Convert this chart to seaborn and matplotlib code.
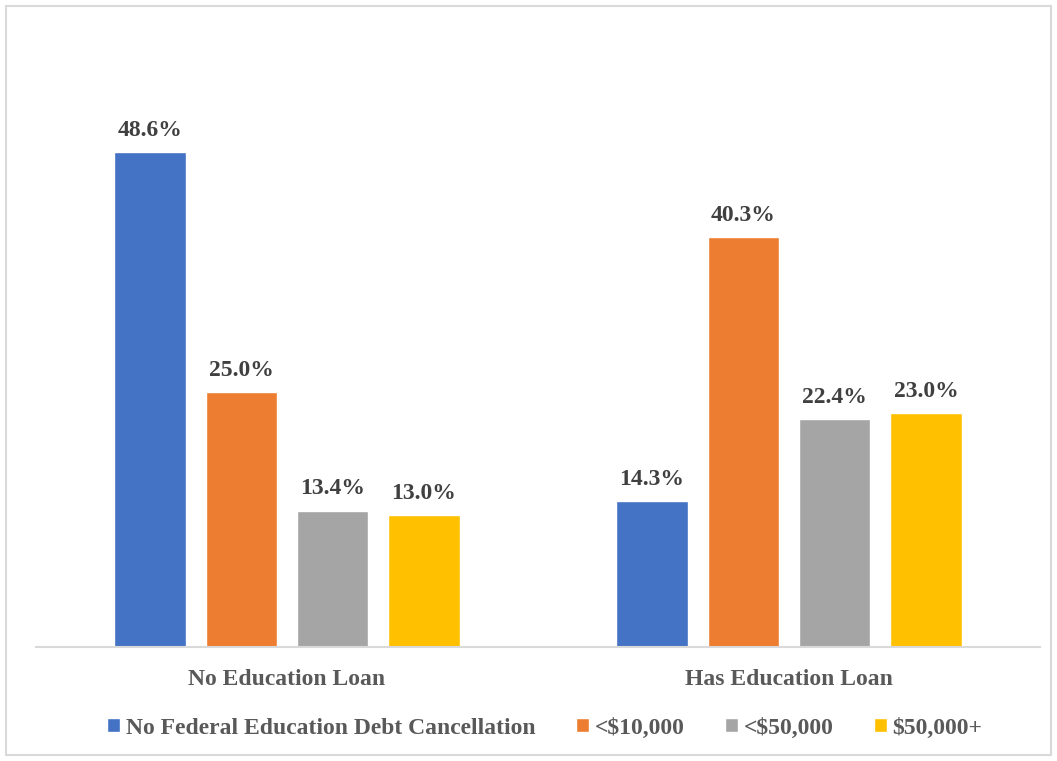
import matplotlib
matplotlib.use("Agg")
import matplotlib.pyplot as plt
import seaborn as sns
import pandas as pd
from matplotlib.patches import Rectangle

groups = ["No Education Loan", "Has Education Loan"]
series = ["No Federal Education Debt Cancellation", "<$10,000", "<$50,000", "$50,000+"]
values = {
    "No Federal Education Debt Cancellation": [48.6, 14.3],
    "<$10,000": [25.0, 40.3],
    "<$50,000": [13.4, 22.4],
    "$50,000+": [13.0, 23.0],
}
colors = ["#4472C4", "#ED7D31", "#A5A5A5", "#FFC000"]

rows = []
for s in series:
    for g, v in zip(groups, values[s]):
        rows.append({"group": g, "series": s, "value": v})
df = pd.DataFrame(rows)

sns.set_style("white")
plt.rcParams['font.family'] = ['Liberation Serif', 'DejaVu Serif']

W, H = 1057, 761
fig = plt.figure(figsize=(W / 100, H / 100), dpi=100)
ax = fig.add_axes([36 / W, 1 - 647 / H, (1040 - 36) / W, (647 - 36) / H])

sns.barplot(data=df, x="group", y="value", hue="series", hue_order=series,
            order=groups, palette=colors, width=0.728, gap=0.22, ax=ax,
            saturation=1, legend=True)

ax.set_xlim(-0.5, 1.5)
ax.set_ylim(0, 60)
ax.set_xlabel("")
ax.set_ylabel("")
ax.set_yticks([])
for sp in ["top", "right", "left"]:
    ax.spines[sp].set_visible(False)
ax.spines["bottom"].set_color("#D9D9D9")
ax.spines["bottom"].set_linewidth(1.5)
ax.tick_params(axis="x", length=0, pad=16)
for lbl in ax.get_xticklabels():
    lbl.set_fontsize(17)
    lbl.set_fontweight("bold")
    lbl.set_color("#595959")

for cont in ax.containers:
    ax.bar_label(cont, labels=[f"{v:.1f}%" for v in cont.datavalues],
                 padding=8, fontsize=17, fontweight="bold", color="#404040")

leg = ax.get_legend()
handles, labels = ax.get_legend_handles_labels()
leg.remove()
fig.legend(handles, labels, loc="center", bbox_to_anchor=(545 / W, 1 - 728 / H),
           ncol=4, frameon=False, handlelength=0.55, handleheight=0.55,
           handletextpad=0.25, columnspacing=1.7,
           prop={"family": "Liberation Serif", "weight": "bold", "size": 17},
           labelcolor="#595959")

fig.patches.append(Rectangle((6 / W, 6 / H), (1051 - 6) / W, (755 - 6) / H,
                             transform=fig.transFigure, fill=False,
                             edgecolor="#D9D9D9", linewidth=1.5))

fig.savefig("out.png", dpi=100, facecolor="white")
